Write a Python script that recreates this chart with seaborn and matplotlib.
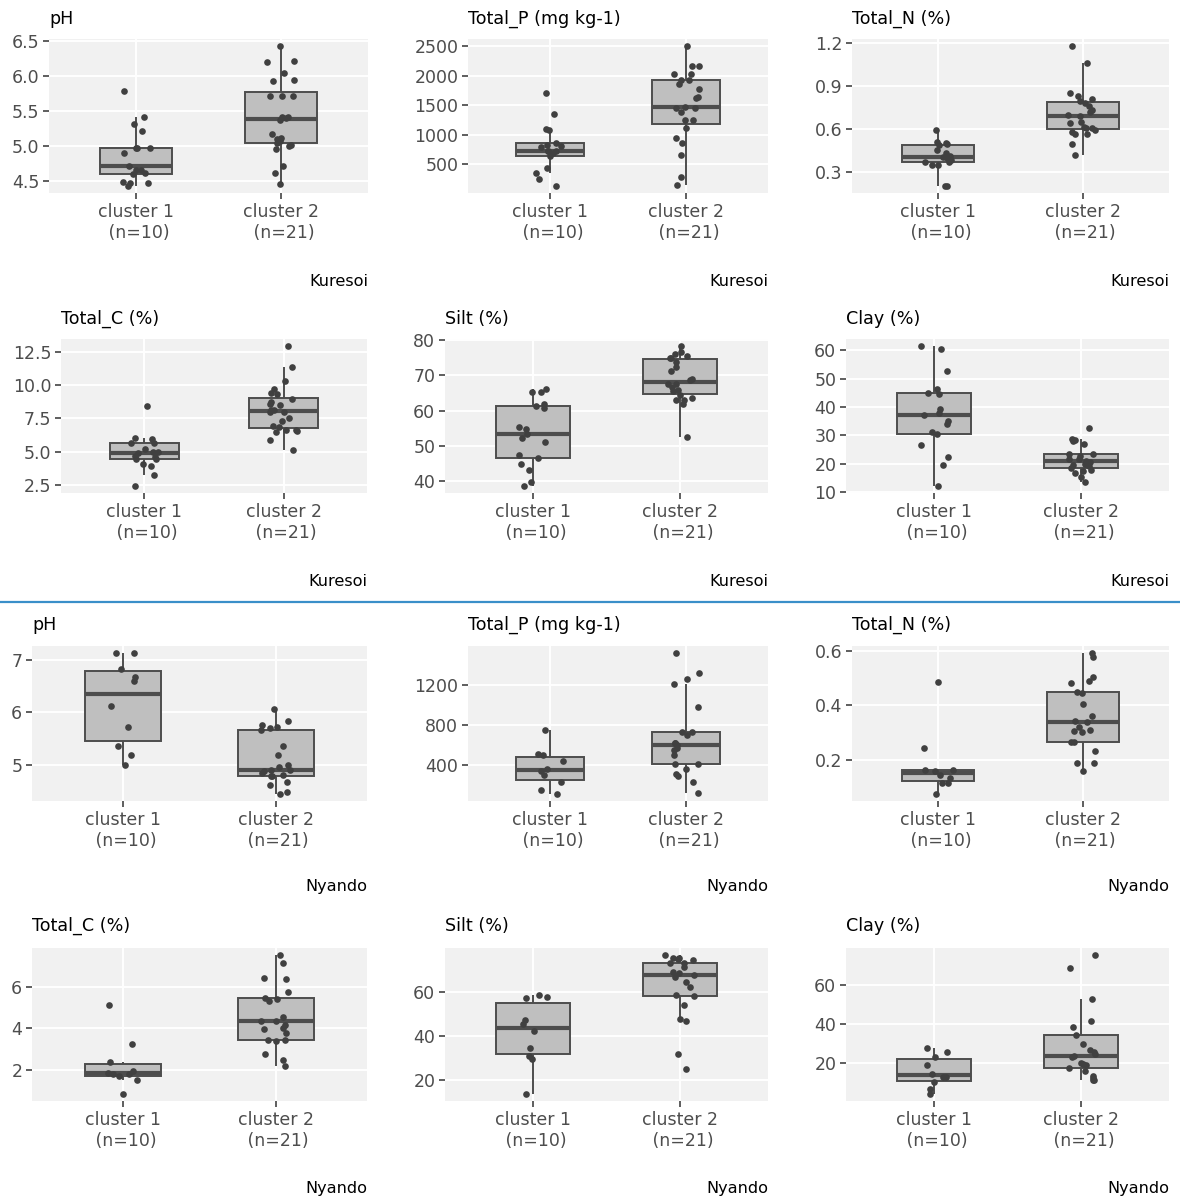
import numpy as np
import pandas as pd
import matplotlib
matplotlib.use("Agg")
import matplotlib.pyplot as plt
import seaborn as sns

# ── Labels ──
groups = ["cluster 1\n (n=10)", "cluster 2\n (n=21)"]
sites = ["Kuresoi", "Nyando"]
variables = ["pH", "Total_P (mg kg-1)", "Total_N (%)", "Total_C (%)", "Silt (%)", "Clay (%)"]

# ── Kuresoi values ──
kur_ph_c1 = [5.79, 5.41, 5.31, 5.22, 4.98, 4.97, 4.97, 4.90, 4.72, 4.66, 4.66, 4.62, 4.60, 4.49, 4.47, 4.47, 4.43]
kur_ph_c2 = [6.43, 6.22, 6.20, 6.04, 5.94, 5.93, 5.72, 5.72, 5.71, 5.42, 5.41, 5.40, 5.38, 5.18, 5.12, 5.10,
             5.07, 5.05, 5.01, 5.00, 4.96, 4.72, 4.61, 4.46]
kur_p_c1 = [1702, 1354, 1095, 1079, 854, 826, 809, 790, 730, 725, 725, 697, 640, 438, 348, 247, 135]
kur_p_c2 = [2500, 2169, 2157, 2022, 2022, 1920, 1933, 1860, 1775, 1646, 1618, 1470, 1455, 1455, 1388, 1253,
            1253, 1107, 944, 865, 652, 292, 157]
kur_n_c1 = [0.59, 0.505, 0.50, 0.496, 0.484, 0.454, 0.43, 0.41, 0.40, 0.396, 0.384, 0.37, 0.366, 0.35, 0.345,
            0.20, 0.20]
kur_n_c2 = [1.177, 1.06, 0.85, 0.827, 0.81, 0.79, 0.776, 0.76, 0.727, 0.715, 0.695, 0.687, 0.648, 0.64, 0.613,
            0.605, 0.605, 0.59, 0.575, 0.56, 0.56, 0.496, 0.417]
kur_c_c1 = [8.39, 6.04, 5.97, 5.64, 5.62, 5.22, 5.0, 4.95, 4.89, 4.69, 4.57, 4.45, 4.45, 4.1, 3.9, 3.27, 2.43]
kur_c_c2 = [12.92, 11.33, 10.33, 9.73, 9.41, 9.36, 8.95, 8.71, 8.61, 8.51, 8.16, 8.10, 7.94, 7.94, 7.49, 7.29,
            6.94, 6.85, 6.61, 6.61, 6.54, 6.44, 5.89, 5.12]
kur_silt_c1 = [66.1, 65.4, 65.2, 62.0, 61.3, 60.6, 55.2, 54.7, 53.3, 52.1, 50.9, 47.4, 46.6, 44.7, 43.1, 39.5, 38.5]
kur_silt_c2 = [78.4, 76.8, 76.2, 75.5, 75.1, 75.1, 73.9, 72.4, 71.3, 68.9, 68.7, 67.7, 67.5, 66.7, 66.0, 65.5,
               64.4, 63.5, 63.0, 62.9, 61.8, 52.6]
kur_clay_c1 = [61.5, 60.6, 52.7, 46.5, 44.8, 44.5, 39.2, 38.0, 37.1, 35.1, 33.9, 31.0, 30.6, 26.5, 22.5, 19.4, 12.1]
kur_clay_c2 = [32.7, 28.8, 28.4, 28.0, 26.8, 23.3, 23.3, 22.7, 21.8, 21.8, 21.0, 20.4, 19.8, 19.5, 19.2, 18.6,
               17.8, 17.4, 16.8, 15.1, 13.6]

# ── Nyando values ──
nya_ph_c1 = [7.13, 7.13, 6.83, 6.67, 6.60, 6.12, 5.73, 5.36, 5.20, 5.00]
nya_ph_c2 = [6.07, 5.84, 5.77, 5.72, 5.70, 5.66, 5.36, 5.20, 5.00, 4.96, 4.91, 4.90, 4.88, 4.85, 4.82, 4.80,
             4.80, 4.67, 4.62, 4.48, 4.45]
nya_p_c1 = [754, 511, 494, 434, 359, 342, 299, 231, 150, 106]
nya_p_c2 = [1524, 1322, 1261, 1215, 984, 731, 731, 697, 619, 619, 600, 569, 552, 494, 403, 403, 359, 309, 282,
            231, 116]
nya_n_c1 = [0.486, 0.243, 0.162, 0.162, 0.160, 0.144, 0.135, 0.116, 0.116, 0.075]
nya_n_c2 = [0.591, 0.577, 0.502, 0.489, 0.483, 0.449, 0.443, 0.404, 0.360, 0.342, 0.338, 0.320, 0.310, 0.304,
            0.301, 0.264, 0.264, 0.231, 0.189, 0.189, 0.159]
nya_c_c1 = [5.14, 3.22, 2.35, 1.94, 1.84, 1.81, 1.80, 1.68, 1.52, 0.82]
nya_c_c2 = [7.54, 7.14, 6.45, 6.38, 5.76, 5.46, 5.39, 5.33, 4.56, 4.37, 4.34, 4.18, 4.00, 3.94, 3.76, 3.44,
            3.41, 3.38, 2.74, 2.45, 2.18]
nya_silt_c1 = [58.5, 57.5, 57.3, 47.2, 45.2, 42.2, 34.3, 30.7, 29.6, 13.6]
nya_silt_c2 = [76.6, 75.4, 75.1, 74.8, 74.3, 73.1, 72.8, 71.0, 68.7, 68.4, 67.5, 66.4, 64.5, 61.9, 58.5, 58.2,
               54.0, 47.5, 46.6, 31.6, 24.8]
nya_clay_c1 = [27.8, 25.7, 23.2, 19.0, 14.7, 13.1, 13.1, 10.5, 6.8, 4.3]
nya_clay_c2 = [75.2, 68.4, 52.6, 41.4, 38.7, 34.2, 29.6, 26.6, 25.7, 24.9, 23.6, 23.2, 20.3, 19.8, 19.0, 17.6,
               16.1, 13.4, 12.6, 11.7, 11.4]

# ── Y tick values ──
kur_ticks = [[4.5, 5.0, 5.5, 6.0, 6.5], [500, 1000, 1500, 2000, 2500], [0.3, 0.6, 0.9, 1.2],
             [2.5, 5.0, 7.5, 10.0, 12.5], [40, 50, 60, 70, 80], [10, 20, 30, 40, 50, 60]]
nya_ticks = [[5, 6, 7], [400, 800, 1200], [0.2, 0.4, 0.6], [2, 4, 6], [20, 40, 60], [20, 40, 60]]
kur_fmt = ["{:.1f}", "{:.0f}", "{:.1f}", "{:.1f}", "{:.0f}", "{:.0f}"]
nya_fmt = ["{:.0f}", "{:.0f}", "{:.1f}", "{:.0f}", "{:.0f}", "{:.0f}"]

kur_data = [(kur_ph_c1, kur_ph_c2), (kur_p_c1, kur_p_c2), (kur_n_c1, kur_n_c2),
            (kur_c_c1, kur_c_c2), (kur_silt_c1, kur_silt_c2), (kur_clay_c1, kur_clay_c2)]
nya_data = [(nya_ph_c1, nya_ph_c2), (nya_p_c1, nya_p_c2), (nya_n_c1, nya_n_c2),
            (nya_c_c1, nya_c_c2), (nya_silt_c1, nya_silt_c2), (nya_clay_c1, nya_clay_c2)]

# ── Layout (pixels) ──
W, H = 1180, 1200
row_tb = [(39, 193), (339, 493), (646, 801), (948, 1101)]
title_y = [19, 319, 625, 926]
caption_y = [281, 581, 887, 1188]
col_lr = [[(49, 368), (468, 768), (852, 1169)],
          [(61, 367), (445, 768), (846, 1169)],
          [(32, 367), (468, 768), (852, 1169)],
          [(32, 367), (445, 768), (846, 1169)]]

BG = "#F1F1F1"
BOX_FILL = "#BFBFBF"
LINE = "#4D4D4D"
POINT = "#404040"
TICK_TXT = "#4D4D4D"

np.random.seed(7)
fig = plt.figure(figsize=(W / 100, H / 100), dpi=100)


def draw_panel(ax, c1, c2, ticks, fmt):
    df = pd.DataFrame({
        "cluster": [groups[0]] * len(c1) + [groups[1]] * len(c2),
        "value": list(c1) + list(c2),
    })
    sns.boxplot(data=df, x="cluster", y="value", order=groups, ax=ax, width=0.5,
                showfliers=False, showcaps=False, color=BOX_FILL, saturation=1, linecolor=LINE,
                linewidth=1.4, medianprops=dict(linewidth=3.0, color=LINE), zorder=2)
    sns.stripplot(data=df, x="cluster", y="value", order=groups, ax=ax, color=POINT,
                  size=4.8, jitter=0.1, linewidth=0, zorder=3)
    ax.set_facecolor(BG)
    ax.set_xlim(-0.6, 1.6)
    lo, hi = df["value"].min(), df["value"].max()
    pad = 0.05 * (hi - lo)
    ax.set_ylim(lo - pad, hi + pad)
    ax.set_yticks(ticks)
    ax.set_yticklabels([fmt.format(t) for t in ticks])
    ax.grid(True, color="white", linewidth=1.4)
    ax.xaxis.grid(True, color="white", linewidth=1.4)
    ax.set_axisbelow(True)
    for s in ax.spines.values():
        s.set_visible(False)
    ax.set_xlabel("")
    ax.set_ylabel("")
    ax.tick_params(axis="both", colors="#333333", length=4, width=1.1,
                   labelsize=12.5, labelcolor=TICK_TXT, pad=3)


for r in range(4):
    site = sites[r // 2]
    data = kur_data if r < 2 else nya_data
    ticks = kur_ticks if r < 2 else nya_ticks
    fmts = kur_fmt if r < 2 else nya_fmt
    top, bottom = row_tb[r]
    for c in range(3):
        k = (r % 2) * 3 + c
        left, right = col_lr[r][c]
        ax = fig.add_axes([left / W, 1 - bottom / H, (right - left) / W, (bottom - top) / H])
        draw_panel(ax, data[k][0], data[k][1], ticks[k], fmts[k])
        fig.text(left / W, 1 - title_y[r] / H, variables[k], ha="left", va="center",
                 fontsize=12.6, color="black")
        fig.text(right / W, 1 - caption_y[r] / H, site, ha="right", va="center",
                 fontsize=11.6, color="black")

# ── Separator between the two sites ──
fig.add_artist(plt.Line2D([0, 1], [1 - 602 / H, 1 - 602 / H], transform=fig.transFigure,
                          color="#3A8FC9", linewidth=1.6))

fig.savefig("out.png", dpi=100, facecolor="white")
